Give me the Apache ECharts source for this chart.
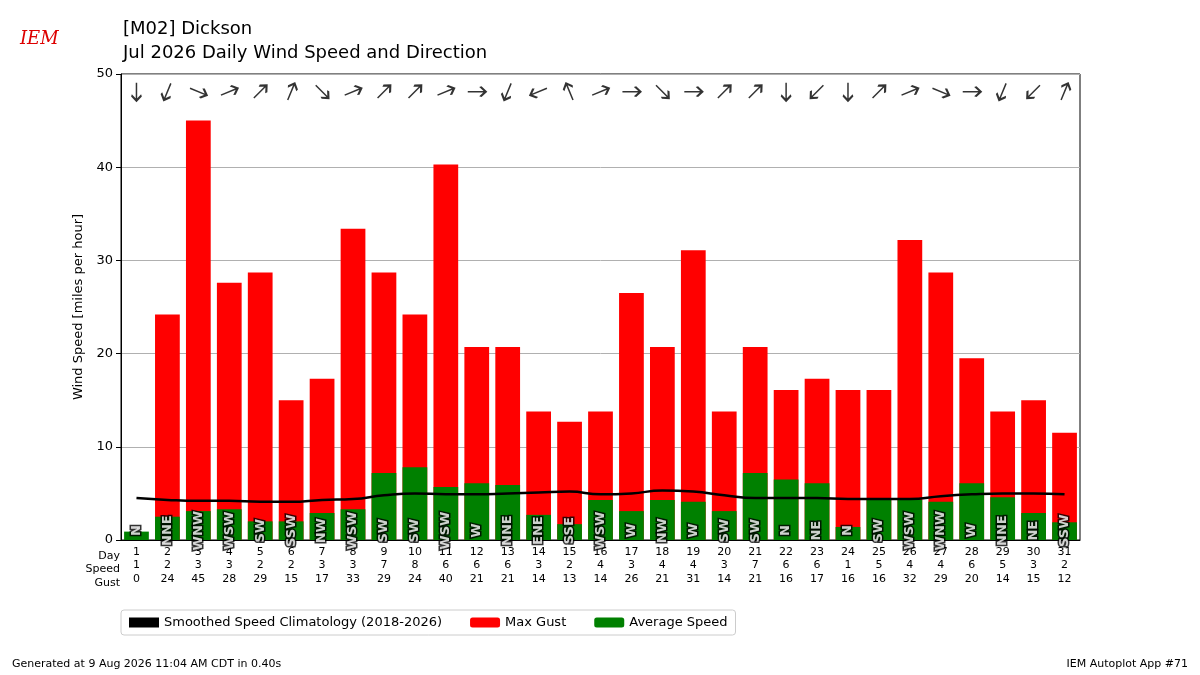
<!DOCTYPE html>
<html><head><meta charset="utf-8">
<script src="https://cdn.jsdelivr.net/npm/echarts@6/dist/echarts.min.js"></script>
<style>html,body{margin:0;padding:0;background:#fff}#c{width:1200px;height:675px}</style>
</head><body><div id="c"></div>
<script>
// 每日数据：方向、平均风速、最大阵风、气候平滑值
const dirs = ['N','NNE','WNW','WSW','SW','SSW','NW','WSW','SW','SW','WSW','W','NNE','ENE','SSE','WSW',
  'W','NW','W','SW','SW','N','NE','N','SW','WSW','WNW','W','NNE','NE','SSW']
const avg = [0.9,2.5,3.1,3.3,2.0,2.0,2.9,3.3,7.2,7.8,5.7,6.1,5.9,2.7,1.7,4.3,3.1,4.3,4.1,3.1,7.2,6.5,6.1,1.4,4.3,4.3,4.1,6.1,4.6,2.9,1.9]
const gust = [0,24.2,45,27.6,28.7,15,17.3,33.4,28.7,24.2,40.3,20.7,20.7,13.8,12.7,13.8,26.5,20.7,31.1,13.8,20.7,16.1,17.3,16.1,16.1,32.2,28.7,19.5,13.8,15,11.5]
const clim = [4.5,4.3,4.2,4.2,4.1,4.1,4.3,4.4,4.8,5.0,4.9,4.9,5.0,5.1,5.2,4.9,5.0,5.3,5.2,4.8,4.5,4.5,4.5,4.4,4.4,4.4,4.7,4.9,5.0,5.0,4.9]
// 表格中显示的整数
const speedTxt = [1,2,3,3,2,2,3,3,7,8,6,6,6,3,2,4,3,4,4,3,7,6,6,1,5,4,4,6,5,3,2]
const gustTxt = [0,24,45,28,29,15,17,33,29,24,40,21,21,14,13,14,26,21,31,14,21,16,17,16,16,32,29,20,14,15,12]
const days = avg.map((v, i) => String(i + 1))
const names = ['N','NNE','NE','ENE','E','ESE','SE','SSE','S','SSW','SW','WSW','W','WNW','NW','NNW']
// 箭头指向下风方向
const deg = d => names.indexOf(d) * 22.5
const arrow = 'path://M0,-10 L0,10 M-4,4 L0,10 L4,4'
const font = 'DejaVu Sans'

const chart = echarts.init(document.getElementById('c'))
chart.setOption({
  animation: false,
  textStyle: {fontFamily: font},
  grid: {left: 121, right: 120, top: 74, bottom: 135},
  title: {text: '[M02] Dickson\nJul 2026 Daily Wind Speed and Direction', left: 118, top: 12,
    textStyle: {fontFamily: font, fontSize: 18, fontWeight: 'normal', lineHeight: 24, color: '#000'}},
  legend: {bottom: 40, left: 121, itemWidth: 30, itemHeight: 10, itemGap: 28,
    borderColor: '#ccc', borderWidth: 1, borderRadius: 3, padding: [6, 8],
    textStyle: {fontFamily: font, fontSize: 13, color: '#000'},
    data: [{name: 'Smoothed Speed Climatology (2018-2026)', icon: 'rect', itemStyle: {color: '#000'}}, 'Max Gust', 'Average Speed']},
  xAxis: {type: 'category', data: days,
    axisLine: {lineStyle: {color: '#000'}}, axisTick: {alignWithLabel: true, lineStyle: {color: '#000'}},
    axisLabel: {fontSize: 11, color: '#000', lineHeight: 13.5, margin: 5,
      formatter: (v, i) => `${v}\n${speedTxt[i]}\n${gustTxt[i]}`}},
  yAxis: {type: 'value', min: 0, max: 50, interval: 10, name: 'Wind Speed [miles per hour]',
    nameLocation: 'middle', nameGap: 34, nameTextStyle: {fontSize: 13, color: '#000'},
    axisLine: {show: true, lineStyle: {color: '#000'}}, axisTick: {show: true, lineStyle: {color: '#000'}},
    axisLabel: {fontSize: 13, color: '#000'}, splitLine: {lineStyle: {color: '#b0b0b0'}}},
  graphic: [
    {type: 'rect', shape: {x: 121, y: 74, width: 959, height: 466}, style: {fill: 'none', stroke: '#000'}, silent: true},
    {type: 'text', x: 120, y: 549, style: {text: 'Day\nSpeed\nGust', fontSize: 11, lineHeight: 13.5, align: 'right', fontFamily: font}},
    {type: 'text', left: 20, top: 30, style: {text: 'IEM', fontSize: 18, fontStyle: 'italic', fill: '#d00', fontFamily: 'DejaVu Serif'}},
    {type: 'text', left: 12, top: 659, style: {text: 'Generated at 9 Aug 2026 11:04 AM CDT in 0.40s', fontSize: 11, fontFamily: font}},
    {type: 'text', right: 12, top: 659, style: {text: 'IEM Autoplot App #71', fontSize: 11, fontFamily: font, align: 'right'}}
  ],
  series: [
    {name: 'Max Gust', type: 'bar', data: gust, barWidth: '80%', itemStyle: {color: '#ff0000'}},
    {name: 'Average Speed', type: 'bar', data: avg, barWidth: '80%', barGap: '-100%', itemStyle: {color: '#008000'}},
    {name: 'Smoothed Speed Climatology (2018-2026)', type: 'line', data: clim, smooth: true, symbol: 'none',
      lineStyle: {color: '#000', width: 2.5}, z: 5},
    {type: 'scatter', data: dirs.map((d, i) => [i, 1.0]), symbolSize: 0, z: 6,
      label: {show: true, rotate: 90, position: 'inside', formatter: p => dirs[p.dataIndex],
        color: '#fff', textBorderColor: '#000', textBorderWidth: 3, fontSize: 13, fontWeight: 'bold'}},
    {type: 'scatter', data: dirs.map((d, i) => ({value: [i, 48.1], symbolRotate: -deg(d)})), symbol: arrow,
      symbolSize: [10, 18], itemStyle: {color: 'none', borderColor: '#000', borderWidth: 2}, z: 6}
  ]
})
</script></body></html>
